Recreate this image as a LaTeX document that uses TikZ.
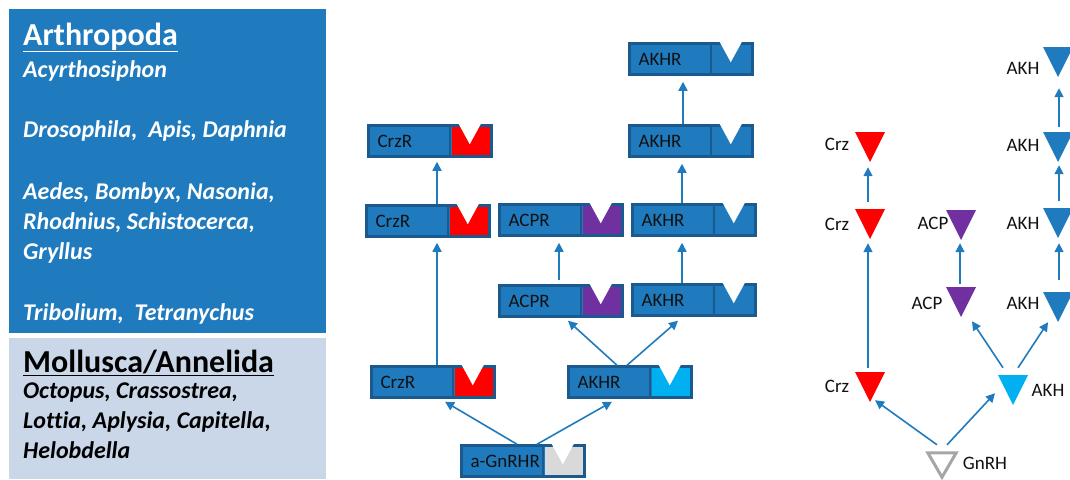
\documentclass[tikz,border=0pt]{standalone}
\usepackage{fontspec}
\setmainfont{Carlito}[Ligatures=CommonOff]
\usetikzlibrary{calc,arrows.meta}
\definecolor{rblue}{HTML}{1F7BBE}
\definecolor{rdark}{HTML}{1B5A8E}
\definecolor{plight}{HTML}{CAD7E8}
\definecolor{cred}{HTML}{FF0000}
\definecolor{cpurple}{HTML}{7030A0}
\definecolor{ccyan}{HTML}{00B0F0}
\definecolor{cgray}{HTML}{D9D9D9}
\definecolor{hgray}{HTML}{A6A6A6}
\definecolor{txt}{HTML}{111111}
\tikzset{
  rbox/.style={rectangle, minimum width=123pt, minimum height=31pt, fill=rblue, draw=rdark, line width=2.5pt, inner xsep=9pt, inner ysep=0pt, text width=105pt, align=left, font=\fontsize{19}{19}\selectfont, text=txt},
  lig/.style={rectangle, minimum width=30pt, minimum height=30pt, inner sep=0pt, path picture={\fill[#1] (path picture bounding box.north west) -- (path picture bounding box.north east) -- (path picture bounding box.south) -- cycle;}},
  ltxt/.style={font=\fontsize{19}{19}\selectfont, inner sep=0pt, text=txt},
  arr/.style={draw=rblue, line width=1.6pt, -{Triangle[width=9pt,length=9pt]}},
  ptitle/.style={anchor=base west, inner sep=0pt, font=\fontsize{32}{32}\selectfont\bfseries},
  pbody/.style={anchor=base west, inner sep=0pt, font=\fontsize{24}{24}\selectfont\bfseries\itshape},
}
\newcommand{\rcp}[4]{%
  \node[rbox] (#1) at (#2) {#3};
  \fill[#4] ($(#1.north east)+(-41,3)$) rectangle ($(#1.south east)+(-3,-3)$);
  \draw[rdark, line width=2pt] ($(#1.north east)+(-43,1)$) -- ($(#1.south east)+(-43,-1)$);
  \fill[white] ($(#1.north east)+(-35,-2)$) -- ($(#1.north east)+(-11,-2)$) -- ($(#1.north east)+(-23,20)$) -- cycle;
}
\begin{document}
\begin{tikzpicture}[x=1pt,y=-1pt]
\useasboundingbox (0,0) rectangle (1070,479);
% left panels
\fill[rblue] (9,9) rectangle (326,333);
\fill[plight] (9,338) rectangle (326,479);
\node[ptitle, text=white] (arth) at (23,45) {\underline{Arthropoda}};
\node[pbody, text=white] (t1) at (23,77) {Acyrthosiphon};
\node[pbody, text=white] (t2) at (23,137) {Drosophila,\ \ Apis, Daphnia};
\node[pbody, text=white] (t3) at (23,199) {Aedes, Bombyx, Nasonia,};
\node[pbody, text=white] (t4) at (23,229) {Rhodnius, Schistocerca,};
\node[pbody, text=white] (t5) at (23,259) {Gryllus};
\node[pbody, text=white] (t6) at (23,320) {Tribolium,\ \ Tetranychus};
\node[ptitle, text=black] (moll) at (23,372) {\underline{Mollusca/Annelida}};
\node[pbody, text=black] (m1) at (23,398) {Octopus, Crassostrea,};
\node[pbody, text=black] (m2) at (23,428) {Lottia, Aplysia, Capitella,};
\node[pbody, text=black] (m3) at (23,458) {Helobdella};
% receptors
\rcp{crzT}{430,141}{CrzR}{cred}
\rcp{crzM}{428,221}{CrzR}{cred}
\rcp{crzB}{433,382}{CrzR}{cred}
\rcp{acpT}{561,220}{ACPR}{cpurple}
\rcp{acpM}{561,301}{ACPR}{cpurple}
\rcp{akh1}{691,59}{AKHR}{rblue}
\rcp{akh2}{691,141}{AKHR}{rblue}
\rcp{akh3}{694,220}{AKHR}{rblue}
\rcp{akh4}{694,300}{AKHR}{rblue}
\rcp{akhB}{630,382}{AKHR}{ccyan}
\rcp{gnr}{523,461}{a-GnRHR}{cgray}
% receptor arrows
\draw[arr] ($(crzB.north)+(4,0)$) -- ($(crzM.south)+(9,5)$);
\draw[arr] ($(crzM.north)+(9,0)$) -- ($(crzT.south)+(7,4)$);
\draw[arr] ($(acpM.north)+(-2,-4)$) -- ($(acpT.south)+(-2,6)$);
\draw[arr] ($(akh4.north)+(-12,0)$) -- ($(akh3.south)+(-12,6)$);
\draw[arr] ($(akh3.north)+(-12,0)$) -- ($(akh2.south)+(-9,6)$);
\draw[arr] ($(akh2.north)+(-8,0)$) -- ($(akh1.south)+(-8,6)$);
\draw[arr] ($(akhB.north)+(-13,0)$) -- ($(acpM.south)+(7,3)$);
\draw[arr] ($(akhB.north)+(-3,0)$) -- ($(akh4.south)+(-16,4)$);
\draw[arr] ($(gnr.north)+(-6,0)$) -- ($(crzB.south)+(12,3)$);
\draw[arr] ($(gnr.north)+(14,0)$) -- ($(akhB.south)+(-18,3)$);
% ligands
\node[lig=cred] (crz1) at (870,147) {};
\node[lig=cred] (crz2) at (870,224) {};
\node[lig=cred] (crz3) at (870,387) {};
\node[lig=cpurple] (acp1) at (961,225) {};
\node[lig=cpurple] (acp2) at (961,302) {};
\node[lig=rblue] (akhL1) at (1058,62) {};
\node[lig=rblue] (akhL2) at (1058,147) {};
\node[lig=rblue] (akhL3) at (1058,223) {};
\node[lig=rblue] (akhL4) at (1058,307) {};
\node[lig=ccyan] (akhC) at (1013,390) {};
\node[rectangle, minimum width=28pt, minimum height=24pt, inner sep=0pt] (gnrh) at (942,465) {};
\draw[hgray, line width=3pt, line join=miter] (gnrh.north west) -- (gnrh.north east) -- (gnrh.south) -- cycle;
% ligand labels
\node[ltxt] (lcrz1) at (837,144) {Crz};
\node[ltxt] (lcrz2) at (837,224) {Crz};
\node[ltxt] (lcrz3) at (837,386) {Crz};
\node[ltxt] (lacp1) at (933,223) {ACP};
\node[ltxt] (lacp2) at (927,303) {ACP};
\node[ltxt] (lakh1) at (1023,68) {AKH};
\node[ltxt] (lakh2) at (1023,145) {AKH};
\node[ltxt] (lakh3) at (1023,223) {AKH};
\node[ltxt] (lakh4) at (1023,303) {AKH};
\node[ltxt] (lakhC) at (1048,390) {AKH};
\node[ltxt] (lgnrh) at (985,463) {GnRH};
% ligand arrows
\draw[arr] ($(crz3.north)+(-2,-4)$) -- ($(crz2.south)+(-2,4)$);
\draw[arr] ($(crz2.north)+(-2,-7)$) -- ($(crz1.south)+(-2,5)$);
\draw[arr] ($(acp2.north)+(-1,-3)$) -- ($(acp1.south)+(-1,3)$);
\draw[arr] ($(akhL4.north)+(1,-12)$) -- ($(akhL3.south)+(1,5)$);
\draw[arr] ($(akhL3.north)+(1,-7)$) -- ($(akhL2.south)+(1,3)$);
\draw[arr] ($(akhL2.north)+(1,-5)$) -- ($(akhL1.south)+(1,11)$);
\draw[arr] ($(akhC.north)+(-10,-7)$) -- ($(acp2.south)+(11,4)$);
\draw[arr] ($(akhC.north)+(5,-7)$) -- ($(akhL4.south)+(-10,0)$);
\draw[arr] ($(gnrh.north)+(-5,-8)$) -- ($(crz3.south)+(5,-2)$);
\draw[arr] ($(gnrh.north)+(5,-8)$) -- ($(akhC.south)+(-18,-12)$);
\end{tikzpicture}
\end{document}
